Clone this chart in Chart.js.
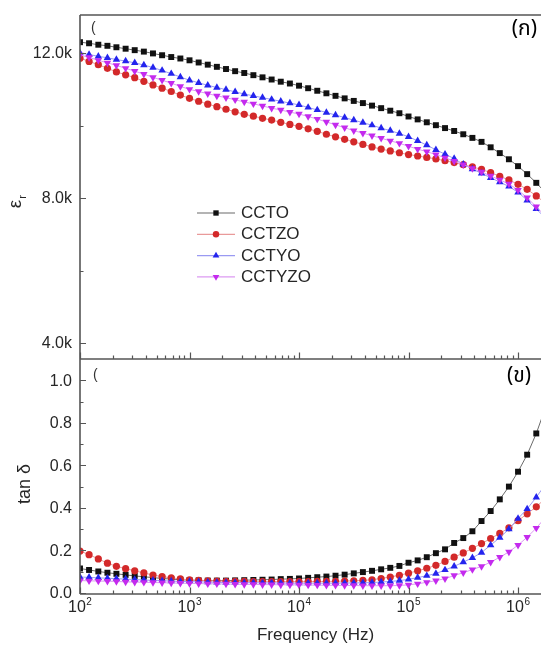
<!DOCTYPE html>
<html>
<head>
<meta charset="utf-8">
<script src="https://cdn.jsdelivr.net/npm/chart.js@4.4.1/dist/chart.umd.min.js"></script>
<style>
  html, body { margin: 0; padding: 0; background: #fff; overflow: hidden; }
  #wrap { position: relative; width: 541px; height: 650px; overflow: hidden; background: #fff; }
  #wrap canvas { position: absolute; left: 0; }
  #epsChart { top: 0; }
  #tanChart { top: 350px; }
</style>
</head>
<body>
<div id="wrap">
  <canvas id="epsChart" width="552" height="370"></canvas>
  <canvas id="tanChart" width="552" height="300"></canvas>
</div>
<script>
// frequency points (Hz)
const freqHz = [100, 121, 147, 178, 215, 261, 316, 383, 464, 562, 681, 825,
  1000, 1212, 1468, 1778, 2154, 2610, 3162, 3831, 4642, 5623, 6813, 8254,
  10000, 12115, 14678, 17783, 21544, 26102, 31623, 38312, 46416, 56234, 68129, 82540,
  100000, 121153, 146780, 177828, 215443, 261016, 316228, 383119, 464159, 562341, 681292, 825404,
  1000000, 1211528, 1467799, 1778279];

const seriesNames = ['CCTO', 'CCTZO', 'CCTYO', 'CCTYZO'];

// dielectric constant, in thousands
const epsCCTO = [12.30, 12.27, 12.23, 12.20, 12.16, 12.12, 12.08, 12.04, 11.99, 11.94, 11.89, 11.85,
  11.80, 11.74, 11.68, 11.62, 11.56, 11.50, 11.45, 11.39, 11.33, 11.27, 11.21, 11.16,
  11.10, 11.03, 10.96, 10.89, 10.82, 10.75, 10.68, 10.62, 10.55, 10.48, 10.41, 10.34,
  10.25, 10.17, 10.09, 10.01, 9.93, 9.85, 9.76, 9.66, 9.55, 9.40, 9.24, 9.07,
  8.88, 8.66, 8.42, 8.15];
const epsCCTZO = [11.86, 11.77, 11.68, 11.58, 11.48, 11.40, 11.32, 11.22, 11.12, 11.03, 10.94, 10.84,
  10.75, 10.67, 10.59, 10.52, 10.45, 10.38, 10.31, 10.26, 10.20, 10.15, 10.09, 10.03,
  9.98, 9.91, 9.84, 9.76, 9.69, 9.62, 9.55, 9.48, 9.41, 9.35, 9.30, 9.25,
  9.20, 9.16, 9.12, 9.08, 9.03, 8.98, 8.92, 8.86, 8.79, 8.70, 8.60, 8.50,
  8.38, 8.24, 8.06, 7.86];
const epsCCTYO = [12.00, 11.96, 11.91, 11.87, 11.82, 11.78, 11.73, 11.67, 11.60, 11.52, 11.43, 11.34,
  11.25, 11.18, 11.11, 11.05, 10.99, 10.93, 10.87, 10.82, 10.77, 10.72, 10.67, 10.62,
  10.57, 10.50, 10.43, 10.36, 10.29, 10.22, 10.15, 10.08, 10.01, 9.93, 9.86, 9.78,
  9.69, 9.58, 9.46, 9.33, 9.21, 9.09, 8.93, 8.80, 8.68, 8.56, 8.44, 8.32,
  8.16, 7.94, 7.70, 7.45];
const epsCCTYZO = [11.95, 11.88, 11.80, 11.73, 11.66, 11.58, 11.50, 11.42, 11.33, 11.25, 11.17, 11.08,
  11.00, 10.94, 10.88, 10.82, 10.77, 10.71, 10.65, 10.60, 10.54, 10.48, 10.43, 10.37,
  10.32, 10.25, 10.18, 10.10, 10.02, 9.94, 9.86, 9.79, 9.72, 9.65, 9.58, 9.51,
  9.43, 9.35, 9.28, 9.20, 9.11, 9.02, 8.92, 8.82, 8.72, 8.61, 8.50, 8.39,
  8.22, 8.01, 7.76, 7.50];

// loss tangent
const tanCCTO = [0.115, 0.108, 0.101, 0.095, 0.090, 0.085, 0.080, 0.076, 0.072, 0.068, 0.065, 0.062,
  0.060, 0.059, 0.058, 0.058, 0.058, 0.059, 0.060, 0.061, 0.062, 0.063, 0.065, 0.066,
  0.068, 0.071, 0.074, 0.077, 0.081, 0.086, 0.092, 0.098, 0.104, 0.111, 0.118, 0.127,
  0.142, 0.153, 0.168, 0.187, 0.205, 0.235, 0.258, 0.290, 0.338, 0.385, 0.440, 0.500,
  0.570, 0.650, 0.750, 0.870];
const tanCCTZO = [0.197, 0.180, 0.160, 0.140, 0.125, 0.114, 0.104, 0.094, 0.084, 0.077, 0.071, 0.066,
  0.062, 0.059, 0.057, 0.056, 0.055, 0.054, 0.054, 0.053, 0.053, 0.053, 0.053, 0.053,
  0.053, 0.053, 0.054, 0.054, 0.055, 0.056, 0.057, 0.059, 0.062, 0.068, 0.075, 0.083,
  0.093, 0.104, 0.116, 0.130, 0.148, 0.168, 0.188, 0.210, 0.232, 0.256, 0.280, 0.306,
  0.340, 0.372, 0.405, 0.445];
const tanCCTYO = [0.075, 0.073, 0.071, 0.069, 0.067, 0.065, 0.063, 0.061, 0.059, 0.057, 0.056, 0.054,
  0.053, 0.052, 0.051, 0.050, 0.049, 0.049, 0.048, 0.048, 0.047, 0.047, 0.047, 0.046,
  0.046, 0.046, 0.046, 0.046, 0.046, 0.047, 0.047, 0.048, 0.049, 0.051, 0.054, 0.058,
  0.064, 0.072, 0.081, 0.091, 0.108, 0.125, 0.145, 0.165, 0.190, 0.225, 0.260, 0.300,
  0.350, 0.395, 0.450, 0.510];
const tanCCTYZO = [0.058, 0.057, 0.056, 0.055, 0.054, 0.052, 0.051, 0.050, 0.049, 0.048, 0.047, 0.046,
  0.045, 0.044, 0.043, 0.043, 0.042, 0.041, 0.040, 0.040, 0.039, 0.039, 0.038, 0.038,
  0.038, 0.037, 0.037, 0.036, 0.036, 0.035, 0.035, 0.034, 0.034, 0.034, 0.034, 0.035,
  0.038, 0.043, 0.050, 0.058, 0.067, 0.082, 0.095, 0.110, 0.125, 0.145, 0.168, 0.193,
  0.225, 0.262, 0.305, 0.355];

// ticks
const freqTicks = [1e2, 1e3, 1e4, 1e5, 1e6];
const freqTickExp = ['2', '3', '4', '5', '6'];
const epsTicks = [4, 8, 12];
const epsTickLabels = ['4.0k', '8.0k', '12.0k'];
const epsMinorTicks = [6, 10];
const tanTicks = [0, 0.2, 0.4, 0.6, 0.8, 1.0];
const tanTickLabels = ['0.0', '0.2', '0.4', '0.6', '0.8', '1.0'];
const tanMinorTicks = [0.1, 0.3, 0.5, 0.7, 0.9];

const colors = ['#111111', '#d3292a', '#2424ee', '#c42aee'];
const lineColors = ['#6a6a6a', '#e99a9a', '#9a9af2', '#dc9af2'];
const pointStyles = ['rect', 'circle', 'triangle', 'triangle'];
const pointRot = [0, 0, 0, 180];
const pointSizes = [4.2, 3.6, 4.3, 4.3];

const FONT = '"Liberation Sans", Arial, sans-serif';
const THAI = '"Noto Sans Thai", "Noto Serif Thai", Loma, Garuda, Kinnari, Norasi, sans-serif';
const TXT = '#262626';
const AXIS = '#555555';

Chart.defaults.font.family = FONT;
Chart.defaults.color = TXT;

function makeSets(list) {
  return list.map((vals, i) => ({
    label: seriesNames[i],
    data: freqHz.map((f, j) => ({ x: f, y: vals[j] })),
    borderColor: lineColors[i],
    borderWidth: 1,
    pointStyle: pointStyles[i],
    pointRotation: pointRot[i],
    pointRadius: pointSizes[i],
    pointBackgroundColor: colors[i],
    pointBorderColor: colors[i],
    pointBorderWidth: 0,
    tension: 0,
    order: list.length - i
  }));
}

// frame, inward ticks, tick labels, legend and extra labels
const framePlugin = {
  id: 'frame',
  afterDraw(chart, args, o) {
    const { ctx, chartArea: a } = chart;
    const x = chart.scales.x, y = chart.scales.y;
    ctx.save();
    ctx.strokeStyle = AXIS;
    ctx.lineWidth = 1.6;
    ctx.beginPath();
    ctx.moveTo(a.left, a.top); ctx.lineTo(a.left, a.bottom);
    ctx.moveTo(a.left, a.bottom); ctx.lineTo(a.right, a.bottom);
    if (o.topLine) { ctx.moveTo(a.left, a.top); ctx.lineTo(a.right, a.top); }
    ctx.stroke();

    ctx.lineWidth = 1.2;
    ctx.beginPath();
    o.yMajor.forEach(v => {
      const p = Math.round(y.getPixelForValue(v)) + 0.5;
      ctx.moveTo(a.left, p); ctx.lineTo(a.left + 6, p);
    });
    o.yMinor.forEach(v => {
      const p = Math.round(y.getPixelForValue(v)) + 0.5;
      ctx.moveTo(a.left, p); ctx.lineTo(a.left + 3.5, p);
    });
    freqTicks.forEach(v => {
      const p = Math.round(x.getPixelForValue(v)) + 0.5;
      ctx.moveTo(p, a.bottom); ctx.lineTo(p, a.bottom - 6.5);
      for (let m = 2; m <= 9; m++) {
        const q = Math.round(x.getPixelForValue(v * m)) + 0.5;
        if (q < a.right) { ctx.moveTo(q, a.bottom); ctx.lineTo(q, a.bottom - 3.5); }
      }
    });
    ctx.stroke();

    // y tick labels
    ctx.fillStyle = TXT;
    ctx.font = '16px ' + FONT;
    ctx.textAlign = 'right';
    ctx.textBaseline = 'middle';
    o.yMajor.forEach((v, i) => {
      ctx.fillText(o.yLabels[i], a.left - 8, y.getPixelForValue(v) + 1);
    });

    // axis title
    ctx.save();
    ctx.translate(o.titleX, o.titleY);
    ctx.rotate(-Math.PI / 2);
    ctx.textAlign = 'center';
    ctx.textBaseline = 'middle';
    ctx.font = o.titleFont + 'px ' + FONT;
    ctx.fillText(o.title, 0, 0);
    if (o.sub) {
      const w = ctx.measureText(o.title).width;
      ctx.font = '11px ' + FONT;
      ctx.textAlign = 'left';
      ctx.fillText(o.sub, w / 2 + 1, 7);
    }
    ctx.restore();

    // panel tag
    ctx.font = '21px ' + THAI;
    ctx.textAlign = 'right';
    ctx.textBaseline = 'middle';
    ctx.fillStyle = '#000';
    ctx.fillText(o.tag, o.tagX, o.tagY);
    ctx.font = '14px ' + FONT;
    ctx.textAlign = 'left';
    ctx.fillStyle = '#333';
    ctx.fillText('(', o.parX, o.parY);

    // legend
    if (o.legend) {
      chart.data.datasets.forEach((ds, i) => {
        const ly = 213 + i * 21.3;
        ctx.strokeStyle = ds.borderColor;
        ctx.lineWidth = 1.2;
        ctx.beginPath();
        ctx.moveTo(197, ly); ctx.lineTo(235, ly);
        ctx.stroke();
        ctx.fillStyle = ds.pointBackgroundColor;
        Chart.helpers.drawPoint(ctx, {
          pointStyle: ds.pointStyle, rotation: ds.pointRotation,
          radius: ds.pointRadius * 0.9, borderWidth: 0
        }, 216, ly);
        ctx.fillStyle = TXT;
        ctx.font = '17px ' + FONT;
        ctx.textAlign = 'left';
        ctx.textBaseline = 'middle';
        ctx.fillText(ds.label, 241, ly + 0.5);
      });
    }

    // x tick labels 10^n
    if (o.xLabels) {
      freqTicks.forEach((v, i) => {
        const p = x.getPixelForValue(v);
        ctx.font = '16px ' + FONT;
        const w1 = ctx.measureText('10').width;
        ctx.font = '10px ' + FONT;
        const w2 = ctx.measureText(freqTickExp[i]).width;
        const start = p - (w1 + w2 + 0.5) / 2;
        ctx.fillStyle = TXT;
        ctx.textAlign = 'left';
        ctx.textBaseline = 'alphabetic';
        ctx.font = '16px ' + FONT;
        ctx.fillText('10', start, o.xLabelY);
        ctx.font = '10px ' + FONT;
        ctx.fillText(freqTickExp[i], start + w1 + 0.5, o.xLabelY - 7);
      });
    }
    ctx.restore();
  }
};

const baseY = ticks => ({
  afterFit: s => { s.width = 80; },
  afterBuildTicks: s => { s.ticks = ticks.map(v => ({ value: v })); },
  grid: { display: false, drawTicks: false },
  border: { display: false },
  ticks: { display: false }
});

new Chart(document.getElementById('epsChart'), {
  type: 'line',
  data: { datasets: makeSets([epsCCTO, epsCCTZO, epsCCTYO, epsCCTYZO]) },
  options: {
    responsive: false,
    animation: false,
    layout: { padding: { top: 15, right: 1, bottom: 11, left: 0 }, autoPadding: false },
    plugins: {
      legend: { display: false },
      tooltip: { enabled: false },
      frame: {
        topLine: true, yMajor: epsTicks, yMinor: epsMinorTicks, yLabels: epsTickLabels,
        title: 'ε', sub: 'r', titleFont: 19, titleX: 16, titleY: 204,
        tag: '(ก)', tagX: 537, tagY: 31, parX: 91, parY: 28,
        legend: true, xLabels: false
      }
    },
    scales: {
      x: { type: 'logarithmic', min: 100, max: 2e6, display: false },
      y: Object.assign({ min: 3.56, max: 13.05 }, baseY(epsTicks))
    }
  },
  plugins: [framePlugin]
});

new Chart(document.getElementById('tanChart'), {
  type: 'line',
  data: { datasets: makeSets([tanCCTO, tanCCTZO, tanCCTYO, tanCCTYZO]) },
  options: {
    responsive: false,
    animation: false,
    layout: { padding: { top: 9, right: 1, bottom: 0, left: 0 }, autoPadding: false },
    plugins: {
      legend: { display: false },
      tooltip: { enabled: false },
      frame: {
        topLine: false, yMajor: tanTicks, yMinor: tanMinorTicks, yLabels: tanTickLabels,
        title: 'tan δ', sub: '', titleFont: 18, titleX: 25, titleY: 134,
        tag: '(ข)', tagX: 531, tagY: 28, parX: 93, parY: 25,
        legend: false, xLabels: true, xLabelY: 262
      }
    },
    scales: {
      x: {
        type: 'logarithmic', min: 100, max: 2e6,
        afterFit: s => { s.height = 56; },
        afterBuildTicks: s => { s.ticks = freqTicks.map(v => ({ value: v })); },
        grid: { display: false, drawTicks: false },
        border: { display: false },
        ticks: { display: false },
        title: { display: true, text: 'Frequency (Hz)', color: TXT, font: { size: 17 }, padding: { top: 0, bottom: 4 } }
      },
      y: Object.assign({ min: -0.005, max: 1.10 }, baseY(tanTicks))
    }
  },
  plugins: [framePlugin]
});
</script>
</body>
</html>
